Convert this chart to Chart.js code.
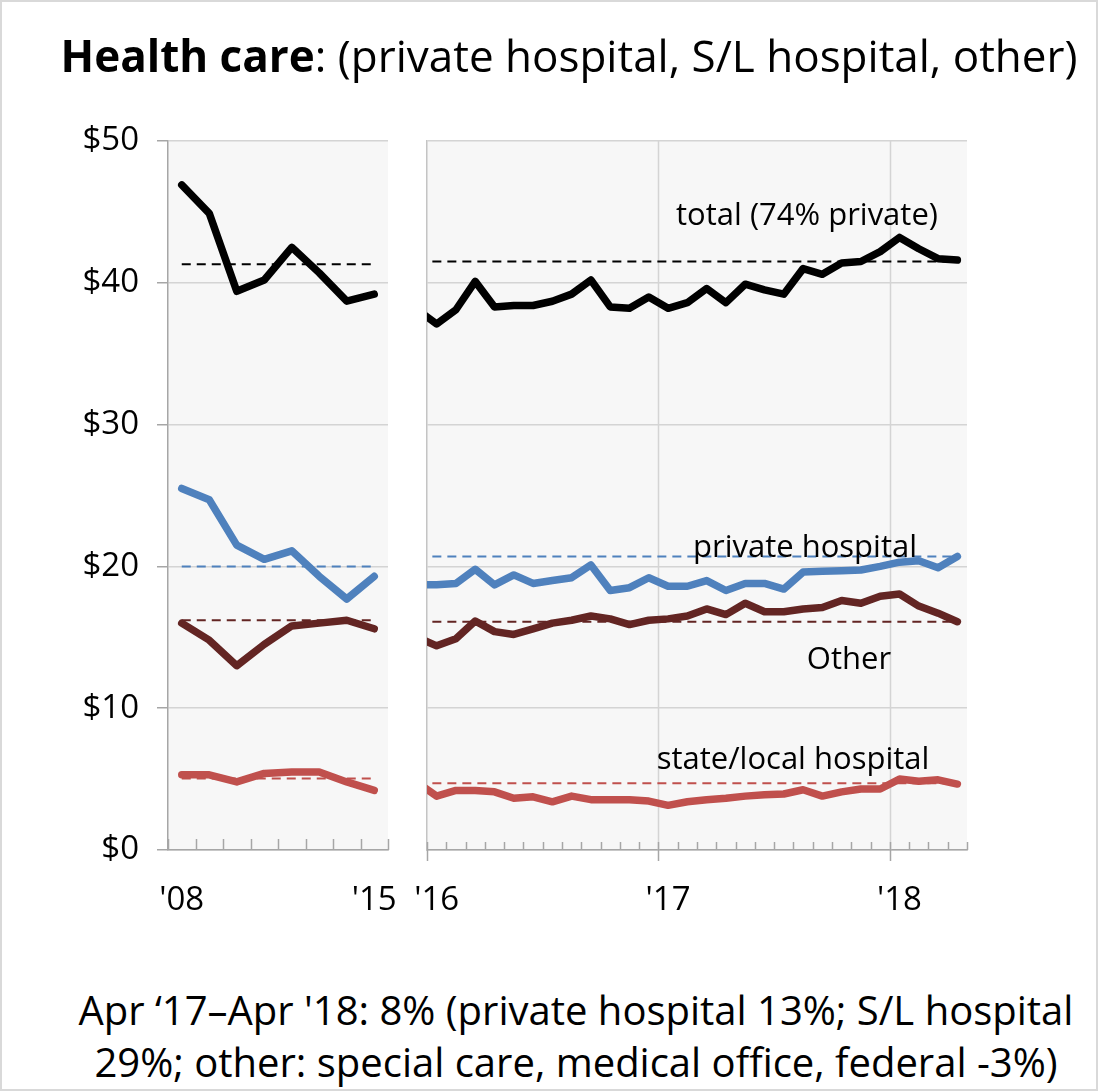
<!DOCTYPE html>
<html>
<head>
<meta charset="utf-8">
<script src="https://cdn.jsdelivr.net/npm/chart.js"></script>
<style>
  html, body { margin: 0; padding: 0; background: #fff; }
  #frame { position: relative; width: 1098px; height: 1091px; overflow: hidden;
           font-family: 'Open Sans', sans-serif; color: #000;
           box-shadow: inset 0 0 0 2px #d9d9d9; }
  canvas { position: absolute; top: 0; }
  .txt { position: absolute; white-space: nowrap; transform: translate(-50%, -50%); line-height: 1; }
  #title { left: 569px; top: 55px; font-size: 44px; }
  #foot { left: 576px; top: 1036px; font-size: 40px; line-height: 52px; text-align: center; }
  .note { font-size: 31px; }
</style>
</head>
<body>
<div id="frame">
  <canvas id="leftPanel" width="400" height="940" style="left:0"></canvas>
  <canvas id="rightPanel" width="600" height="940" style="left:400px"></canvas>
  <div class="txt" id="title"><b>Health care</b>: (private hospital, S/L hospital, other)</div>
  <div class="txt note" style="left:807px; top:213px">total (74% private)</div>
  <div class="txt note" style="left:805px; top:545px">private hospital</div>
  <div class="txt note" style="left:849px; top:657px">Other</div>
  <div class="txt note" style="left:793px; top:757px">state/local hospital</div>
  <div class="txt" id="foot">Apr ‘17–Apr '18: 8% (private hospital 13%; S/L hospital<br>29%; other: special care, medical office, federal -3%)</div>
</div>
<script>
// annual panel, 2008-2015
const leftYears = ["'08", "'09", "'10", "'11", "'12", "'13", "'14", "'15"];
const leftTotal = [46.9, 44.9, 39.4, 40.2, 42.5, 40.7, 38.7, 39.2];
const leftPrivate = [25.5, 24.7, 21.5, 20.5, 21.1, 19.3, 17.7, 19.3];
const leftOther = [16.0, 14.8, 13.0, 14.5, 15.8, 16.0, 16.2, 15.6];
const leftState = [5.3, 5.3, 4.8, 5.4, 5.5, 5.5, 4.8, 4.2];
const leftAvg = { total: 41.3, priv: 20.0, other: 16.2, state: 5.05 };

// monthly panel, first entry (Dec 2015) sits just left of the axis and is clipped
const months = ['2015-12',
  '2016-01', '2016-02', '2016-03', '2016-04', '2016-05', '2016-06', '2016-07', '2016-08', '2016-09', '2016-10', '2016-11', '2016-12',
  '2017-01', '2017-02', '2017-03', '2017-04', '2017-05', '2017-06', '2017-07', '2017-08', '2017-09', '2017-10', '2017-11', '2017-12',
  '2018-01', '2018-02', '2018-03', '2018-04'];
const rightTotal = [38.1,
  37.1, 38.1, 40.1, 38.3, 38.4, 38.4, 38.7, 39.2, 40.2, 38.3, 38.2, 39.0,
  38.2, 38.6, 39.6, 38.6, 39.9, 39.5, 39.2, 41.0, 40.6, 41.4, 41.5, 42.2,
  43.2, 42.4, 41.7, 41.6];
const rightPrivate = [18.7,
  18.7, 18.8, 19.8, 18.7, 19.4, 18.8, 19.0, 19.2, 20.1, 18.3, 18.5, 19.2,
  18.6, 18.6, 19.0, 18.3, 18.8, 18.8, 18.4, 19.6, 19.65, 19.7, 19.75, 20.0,
  20.3, 20.4, 19.9, 20.7];
const rightOther = [15.0,
  14.4, 14.9, 16.15, 15.4, 15.2, 15.6, 16.0, 16.2, 16.5, 16.3, 15.9, 16.2,
  16.3, 16.5, 17.0, 16.6, 17.4, 16.8, 16.8, 17.0, 17.1, 17.6, 17.4, 17.9,
  18.05, 17.2, 16.7, 16.1];
const rightState = [4.75,
  3.8, 4.2, 4.2, 4.1, 3.65, 3.75, 3.4, 3.8, 3.55, 3.55, 3.55, 3.45,
  3.15, 3.4, 3.55, 3.65, 3.8, 3.9, 3.95, 4.25, 3.8, 4.1, 4.3, 4.3,
  5.0, 4.85, 4.95, 4.65];
const rightAvg = { total: 41.5, priv: 20.7, other: 16.1, state: 4.7 };

const colors = { total: '#000000', priv: '#4f81bd', other: '#632523', state: '#c0504d' };
const FONT = 'Open Sans';
const GRID = '#d4d4d4';
const AXIS = '#a6a6a6';

function lineSet(data, color) {
  return { data, borderColor: color, borderWidth: 7.5, pointRadius: 0, tension: 0,
           borderCapStyle: 'round', borderJoinStyle: 'round', clip: 0 };
}
function avgSet(labels, value, color) {
  return { data: [{ x: labels[0], y: value }, { x: labels[labels.length - 1], y: value }],
           borderColor: color, borderWidth: 2, borderDash: [9, 6], pointRadius: 0, clip: 0 };
}

// keep the plot box fixed: no extra room for edge labels
function fixX(s) { s.height = 90; s.paddingLeft = 0; s.paddingRight = 0; }

// grey plot background, inward tick marks and year gridlines on the x axis
const panelDecor = {
  id: 'panelDecor',
  beforeDraw(chart) {
    const { ctx, chartArea: a } = chart;
    ctx.save();
    ctx.fillStyle = '#f7f7f7';
    ctx.fillRect(a.left, a.top, a.right - a.left, a.bottom - a.top);
    ctx.restore();
  },
  beforeDatasetsDraw(chart, args, opts) {
    const { ctx, chartArea: a } = chart;
    const x = chart.scales.x;
    ctx.save();
    ctx.lineWidth = 1.5;
    for (let i = x.min; i <= x.max + 1; i++) {
      const px = Math.round(x.getPixelForValue(i - 0.5)) + 0.5;
      const major = opts.majorEvery > 0 && (i - opts.majorStart) % opts.majorEvery === 0;
      if (major && i !== x.min) {
        ctx.strokeStyle = GRID;
        ctx.beginPath(); ctx.moveTo(px, a.top); ctx.lineTo(px, a.bottom); ctx.stroke();
      }
      ctx.strokeStyle = AXIS;
      ctx.beginPath();
      ctx.moveTo(px, a.bottom - opts.tickUp);
      ctx.lineTo(px, a.bottom + (major ? opts.majorDown : 0));
      ctx.stroke();
    }
    ctx.restore();
  }
};

const tickFont = { family: FONT, size: 33 };

new Chart(document.getElementById('leftPanel'), {
  type: 'line',
  data: {
    labels: leftYears,
    datasets: [
      lineSet(leftTotal, colors.total),
      lineSet(leftPrivate, colors.priv),
      lineSet(leftOther, colors.other),
      lineSet(leftState, colors.state),
      avgSet(leftYears, leftAvg.total, colors.total),
      avgSet(leftYears, leftAvg.priv, colors.priv),
      avgSet(leftYears, leftAvg.other, colors.other),
      avgSet(leftYears, leftAvg.state, colors.state)
    ]
  },
  plugins: [panelDecor],
  options: {
    responsive: false,
    animation: false,
    events: [],
    layout: { padding: { top: 141, right: 12, bottom: 0, left: 0 } },
    plugins: {
      legend: { display: false },
      tooltip: { enabled: false },
      panelDecor: { tickUp: 11, majorDown: 0, majorEvery: 0, majorStart: 0 }
    },
    scales: {
      x: {
        type: 'category',
        offset: true,
        grid: { display: false },
        border: { color: AXIS, width: 1.5 },
        ticks: {
          autoSkip: false, maxRotation: 0, padding: 23, color: '#000', font: tickFont,
          callback(v, i) { return (i === 0 || i === leftYears.length - 1) ? leftYears[i] : ''; }
        },
        afterFit: fixX
      },
      y: {
        min: 0, max: 50,
        ticks: { stepSize: 10, padding: 18, color: '#000', font: tickFont, callback: v => '$' + v },
        grid: { color: GRID, lineWidth: 1.5, tickLength: 11, tickColor: AXIS },
        border: { color: AXIS, width: 1.5 },
        afterFit(s) { s.width = 168; }
      }
    }
  }
});

new Chart(document.getElementById('rightPanel'), {
  type: 'line',
  data: {
    labels: months,
    datasets: [
      lineSet(rightTotal, colors.total),
      lineSet(rightPrivate, colors.priv),
      lineSet(rightOther, colors.other),
      lineSet(rightState, colors.state),
      avgSet(months, rightAvg.total, colors.total),
      avgSet(months, rightAvg.priv, colors.priv),
      avgSet(months, rightAvg.other, colors.other),
      avgSet(months, rightAvg.state, colors.state)
    ]
  },
  plugins: [panelDecor],
  options: {
    responsive: false,
    animation: false,
    events: [],
    layout: { padding: { top: 141, right: 33, bottom: 0, left: 27 } },
    plugins: {
      legend: { display: false },
      tooltip: { enabled: false },
      panelDecor: { tickUp: 8, majorDown: 11, majorEvery: 12, majorStart: 1 }
    },
    scales: {
      x: {
        type: 'category',
        offset: true,
        min: 1,
        grid: { display: false },
        border: { color: AXIS, width: 1.5 },
        ticks: {
          autoSkip: false, maxRotation: 0, padding: 23, color: '#000', font: tickFont,
          callback(v) { const m = months[v]; return m.endsWith('-01') ? "'" + m.slice(2, 4) : ''; }
        },
        afterFit: fixX
      },
      y: {
        min: 0, max: 50,
        ticks: { display: false, stepSize: 10 },
        grid: { color: GRID, lineWidth: 1.5, drawTicks: false },
        border: { color: '#c4c4c4', width: 1.5 },
        afterFit(s) { s.width = 0; }
      }
    }
  }
});
</script>
</body>
</html>
